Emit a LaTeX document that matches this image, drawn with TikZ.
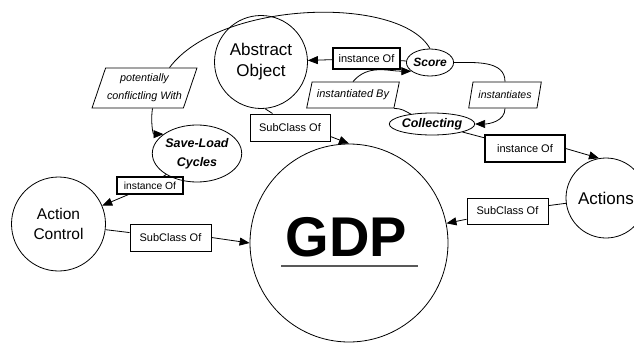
\documentclass[tikz,border=0pt]{standalone}
\usepackage{fontspec}
\setmainfont{Liberation Sans}
\usetikzlibrary{shapes.geometric,arrows.meta}
\begin{document}
\begin{tikzpicture}[x=1pt,y=1pt,
  concept/.style={circle,draw,line width=0.8pt,inner sep=0pt,align=center},
  relbox/.style={rectangle,draw,line width=1pt,inner sep=0pt,font=\fontsize{11}{13}\selectfont},
  relpar/.style={trapezium,trapezium left angle=65,trapezium right angle=115,trapezium stretches=true,draw,line width=0.8pt,inner sep=0pt,align=center,font=\itshape\fontsize{10.8}{18}\selectfont},
  inst/.style={ellipse,draw,line width=0.8pt,inner sep=0pt,align=center,font=\bfseries\itshape\fontsize{12.5}{19}\selectfont},
  link/.style={line width=0.8pt,-{Triangle[length=10pt,width=8pt]}},
  plain/.style={line width=0.8pt}]
  \useasboundingbox (0,0) rectangle (634,-345);

   %concepts
   \node[concept,minimum size=198pt] (gdp) at (349,-243) {};
   \node[font=\bfseries\fontsize{56}{60}\selectfont,inner sep=0pt] (gdpname) at (346.5,-237.5) {GDP};
   \draw[gray!70!black,line width=1.5pt] (281,-266) -- (418,-266);
   \node[concept,minimum size=93pt,font=\fontsize{17}{21}\selectfont] (ao) at (261,-62) {Abstract\\Object};
   \node[concept,minimum size=80pt,font=\fontsize{17}{21}\selectfont] (actions) at (606,-198) {Actions};
   \node[concept,minimum size=94pt,font=\fontsize{15.5}{20}\selectfont] (ac) at (58.5,-224) {Action\\Control};

   %instances
   \node[inst,minimum width=40pt,minimum height=27pt,font=\bfseries\itshape\fontsize{12}{14}\selectfont] (score) at (430,-62.5) {Score};
   \node[inst,minimum width=73pt,minimum height=22pt] (coll) at (432,-124) {Collecting};
   \node[inst,minimum width=80pt,minimum height=57pt] (savel) at (197,-153.5) {Save-Load\\Cycles};

   %relations
   \node[relbox,line width=1.3pt,minimum width=67pt,minimum height=21pt] (instAO) at (366.5,-58.5) {instance Of};
   \node[relbox,line width=1.3pt,minimum width=80pt,minimum height=27pt] (instAct) at (525,-148.5) {instance Of};
   \node[relbox,line width=1.3pt,minimum width=66pt,minimum height=17pt,font=\fontsize{10.3}{12}\selectfont] (instAC) at (150,-185.5) {instance Of};
   \node[relbox,minimum width=80pt,minimum height=27pt] (subAO) at (290,-127.5) {SubClass Of};
   \node[relbox,minimum width=81pt,minimum height=26pt] (subAct) at (507.5,-211) {SubClass Of};
   \node[relbox,minimum width=81pt,minimum height=27pt] (subAC) at (170.5,-237.5) {SubClass Of};
   \node[relpar,minimum width=93pt,minimum height=26pt,font=\itshape\fontsize{11}{13}\selectfont] (instBy) at (353,-95) {instantiated By};
   \node[relpar,minimum width=73pt,minimum height=26pt,font=\itshape\fontsize{10.5}{13}\selectfont] (insts) at (505,-95) {instantiates};
   \node[relpar,minimum width=105pt,minimum height=40pt] (pcw) at (144.5,-88) {potentially\\conflictling With};

   %liens
   \draw[plain] (score) -- (instAO);
   \draw[link] (instAO) -- (ao);
   \draw[plain] (instBy.bottom right corner) to[out=0,in=150] (coll.155);
   \draw[link] (instBy.north) to[out=50,in=180] (score.205);
   \draw[plain] (score.east) to[out=0,in=90] (insts.north);
   \draw[link] (insts.south) to[out=-90,in=0] (coll.east);
   \draw[plain] (coll) -- (instAct);
   \draw[link] (instAct.east) -- (actions.100);
   \draw[plain] (actions) -- (subAct);
   \draw[link] (subAct) -- (gdp);
   \draw[plain] (ao.275) -- ([xshift=23pt]subAO.north west);
   \draw[link] ([yshift=5pt]subAO.south east) -- (gdp.north);
   \draw[plain] ([xshift=25pt]pcw.north) .. controls (220,0) and (400,5) .. (score.north);
   \draw[link] ([xshift=8pt]pcw.south) to[out=-100,in=180] (savel.150);
   \draw[plain] (savel) -- (instAC);
   \draw[link] (instAC) -- (ac);
   \draw[plain] (ac) -- (subAC);
   \draw[link] (subAC.east) -- (gdp.west);
  \end{tikzpicture}
\end{document}
